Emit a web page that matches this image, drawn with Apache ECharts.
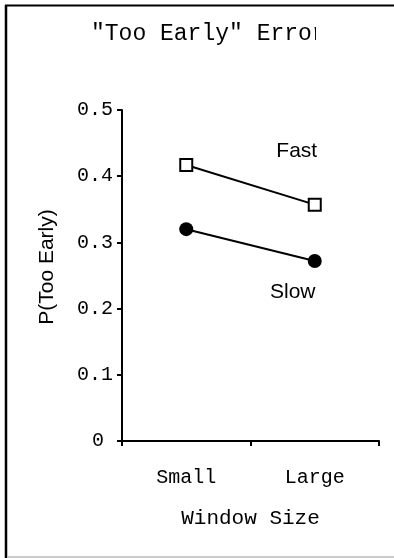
<!DOCTYPE html>
<html>
<head>
<meta charset="utf-8">
<script src="https://cdn.jsdelivr.net/npm/echarts@6/dist/echarts.min.js"></script>
<style>
  html, body { margin: 0; padding: 0; background: #fff; }
  #chart { width: 394px; height: 558px; }
</style>
</head>
<body>
<div id="chart"></div>
<script>
// data
const windowSizes = ["Small", "Large"];
const fastValues = [0.417, 0.357];
const slowValues = [0.320, 0.272];
const yTicks = [0, 0.1, 0.2, 0.3, 0.4, 0.5];

const mono = "'Liberation Mono', 'Courier New', monospace";
const sans = "'Liberation Sans', Arial, sans-serif";

const chart = echarts.init(document.getElementById("chart"));

// tag the last point of each line with its name
function withLabel(values, text, offset) {
  return values.map((v, i) => {
    if (i !== values.length - 1) return v;
    return {
      value: v,
      label: {
        show: true,
        formatter: text,
        position: "inside",
        offset: offset,
        color: "#000",
        fontFamily: sans,
        fontSize: 21,
      },
    };
  });
}

const option = {
  animation: false,
  backgroundColor: "#fff",
  title: {
    text: '"Too Early" Error',
    left: 86,
    top: 17,
    textStyle: {
      fontFamily: mono,
      fontWeight: "normal",
      fontSize: 23,
      color: "#000",
    },
  },
  grid: { left: 122, right: 15, top: 110, bottom: 117 },
  xAxis: {
    type: "category",
    data: windowSizes,
    name: "Window Size",
    nameLocation: "middle",
    nameGap: 67,
    nameTextStyle: { fontFamily: mono, fontSize: 21, color: "#000" },
    axisLine: { lineStyle: { color: "#000", width: 2 } },
    axisTick: { show: true, length: 5, lineStyle: { color: "#000", width: 2 } },
    axisLabel: { fontFamily: mono, fontSize: 20, color: "#000", margin: 27 },
  },
  yAxis: {
    type: "value",
    min: yTicks[0],
    max: yTicks[yTicks.length - 1],
    interval: 0.1,
    splitLine: { show: false },
    axisLine: { show: true, lineStyle: { color: "#000", width: 2 } },
    axisTick: { show: true, length: 5, lineStyle: { color: "#000", width: 2 } },
    axisLabel: {
      fontFamily: mono,
      fontSize: 20,
      color: "#000",
      margin: 9,
      formatter: (v) => (v === 0 ? "{z|0}" : String(Math.round(v * 10) / 10)),
      rich: { z: { fontFamily: mono, fontSize: 20, color: "#000", padding: [0, 9, 0, 0] } },
    },
  },
  series: [
    {
      name: "Fast",
      type: "line",
      data: withLabel(fastValues, "Fast", [-18, -53]),
      symbol: "rect",
      symbolSize: 12,
      itemStyle: { color: "#fff", borderColor: "#000", borderWidth: 2 },
      lineStyle: { color: "#000", width: 2 },
      z: 3,
    },
    {
      name: "Slow",
      type: "line",
      data: withLabel(slowValues, "Slow", [-22, 31]),
      symbol: "circle",
      symbolSize: 14,
      itemStyle: { color: "#000", borderColor: "#000", borderWidth: 0 },
      lineStyle: { color: "#000", width: 2 },
      z: 3,
    },
  ],
  graphic: [
    // y axis title, sits off-centre in the original
    {
      type: "text",
      x: 47,
      y: 267,
      rotation: Math.PI / 2,
      style: {
        text: "P(Too Early)",
        fontFamily: sans,
        fontSize: 21,
        fill: "#000",
        align: "center",
        verticalAlign: "middle",
      },
    },
    // the title is clipped on the right in the original
    {
      type: "rect",
      shape: { x: 316, y: 10, width: 78, height: 40 },
      style: { fill: "#fff" },
      z: 100,
    },
    // frame
    {
      type: "line",
      shape: { x1: 6, y1: 5, x2: 6, y2: 558 },
      style: { stroke: "#000", lineWidth: 2.5 },
      z: 101,
    },
    {
      type: "line",
      shape: { x1: 5, y1: 5.5, x2: 394, y2: 5.5 },
      style: { stroke: "#000", lineWidth: 2 },
      z: 101,
    },
    {
      type: "line",
      shape: { x1: 7, y1: 557, x2: 394, y2: 557 },
      style: { stroke: "#bbb", lineWidth: 1.5 },
      z: 101,
    },
  ],
};

chart.setOption(option);
</script>
</body>
</html>
